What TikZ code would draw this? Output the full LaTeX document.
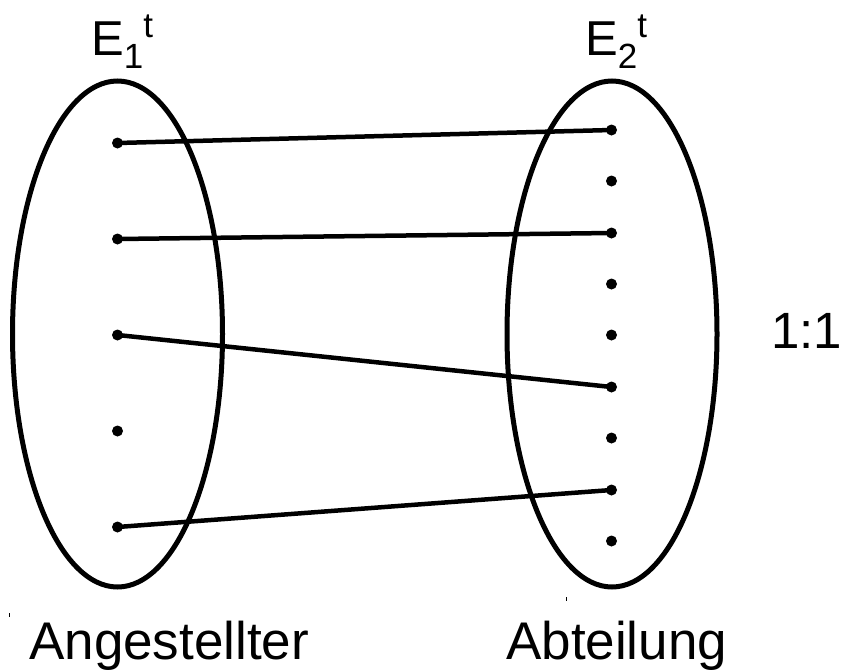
\documentclass[tikz,border=0pt]{standalone}
\usepackage{fontspec}
\setmainfont{Liberation Sans}
\begin{document}
\begin{tikzpicture}[x=1pt,y=-1pt,
  dotnode/.style={circle,fill=black,inner sep=0pt,minimum size=11pt},
  link/.style={line width=4.5pt},
  lbl/.style={inner sep=0pt,anchor=base west,font=\fontsize{53}{60}\selectfont},
  tick/.style={line width=1pt}]
\useasboundingbox (0,0) rectangle (844,670);
% ellipses
\draw[line width=5pt] (117.5,334) ellipse [x radius=105, y radius=253];
\draw[line width=5pt] (612,334) ellipse [x radius=105, y radius=253];
% left dots
\foreach \n/\y in {1/143,2/239,3/335,4/431,5/527}
  \node[dotnode] (l\n) at (117.5,\y) {};
% right dots
\foreach \n/\y in {1/130,2/181,3/233,4/284,5/335,6/387,7/438,8/490,9/541}
  \node[dotnode] (r\n) at (611.5,\y) {};
% connectors
\draw[link] (l1.center) -- (r1.center);
\draw[link] (l2.center) -- (r3.center);
\draw[link] (l3.center) -- (r6.center);
\draw[link] (l5.center) -- (r8.center);
% labels
\node[lbl,font=\fontsize{49}{56}\selectfont] (e1) at (91,55) {E\raisebox{-13pt}{\fontsize{35}{40}\selectfont 1}\raisebox{18pt}{\fontsize{35}{40}\selectfont t}};
\node[lbl,font=\fontsize{49}{56}\selectfont] (e2) at (585,55) {E\raisebox{-13pt}{\fontsize{35}{40}\selectfont 2}\raisebox{18pt}{\fontsize{35}{40}\selectfont t}};
\node[lbl] (ang) at (29,659) {Angestellter};
\node[lbl] (abt) at (506,659) {Abteilung};
\node[lbl,font=\fontsize{51}{58}\selectfont] (ratio) at (771,348) {1:1\kern-9pt};
% tiny marks
\coordinate (m1a) at (9,613); \coordinate (m1b) at (9,617);
\coordinate (m2a) at (566,597); \coordinate (m2b) at (566,601);
\draw[tick] (m1a) -- (m1b);
\draw[tick] (m2a) -- (m2b);
\end{tikzpicture}
\end{document}
